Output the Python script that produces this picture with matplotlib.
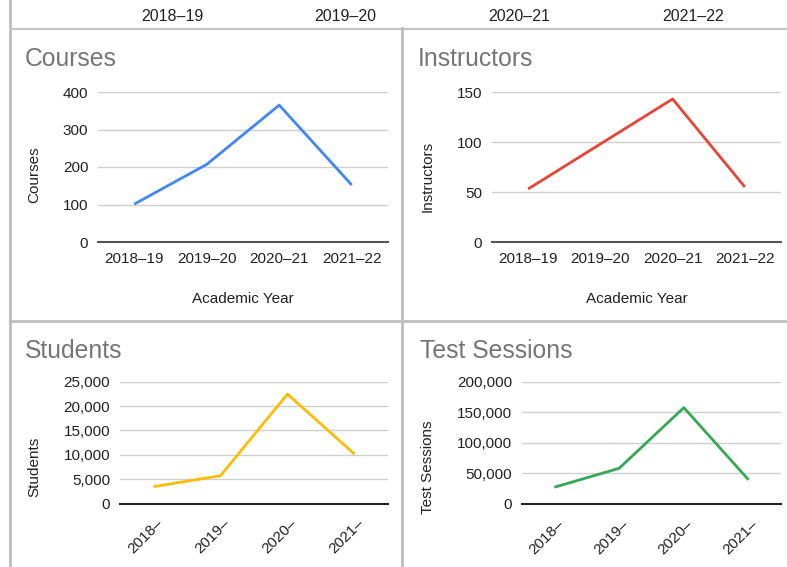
import matplotlib
matplotlib.use("Agg")
import matplotlib.pyplot as plt
from matplotlib.lines import Line2D
from matplotlib.ticker import FuncFormatter
from matplotlib.transforms import ScaledTranslation

plt.rcParams['font.family'] = ['Liberation Sans', 'DejaVu Sans']

years = ["2018–19", "2019–20", "2020–21", "2021–22"]
years_short = ["2018–", "2019–", "2020–", "2021–"]

courses = [101, 207, 365, 152]
instructors = [53, 98, 143, 55]
students = [3450, 5700, 22450, 10150]
test_sessions = [27000, 58000, 157500, 39000]

W, H = 787, 567
fig = plt.figure(figsize=(W / 100, H / 100), dpi=100)
fig.patch.set_facecolor("white")


def box(x0, y0, x1, y1):
    # pixel box (top-left origin) -> figure fraction rect
    return [x0 / W, 1 - y1 / H, (x1 - x0) / W, (y1 - y0) / H]


def hline(y, x0, x1, lw=1.5, color="#c4c4c4"):
    fig.add_artist(Line2D([x0 / W, x1 / W], [1 - y / H, 1 - y / H],
                          color=color, lw=lw, transform=fig.transFigure))


def vline(x, y0, y1, lw=1.5, color="#c4c4c4"):
    fig.add_artist(Line2D([x / W, x / W], [1 - y0 / H, 1 - y1 / H],
                          color=color, lw=lw, transform=fig.transFigure))


# panel frame lines
vline(10, 0, H, lw=2, color="#bdbdbd")
hline(28.5, 10, W, lw=1.5)
vline(402, 28, H, lw=2, color="#bdbdbd")
hline(321, 10, W, lw=2, color="#bdbdbd")

# leftover category labels at the top strip
strip = fig.add_axes(box(85, 0, 780, 28))
strip.set_xlim(-0.5, 3.5)
strip.set_ylim(0, 1)
strip.axis("off")
for i, lab in enumerate(years):
    strip.text(i, 0.4, lab, ha="center", va="center", fontsize=11.5,
               color="#222222")

comma = FuncFormatter(lambda v, p: f"{int(v):,}")


def panel(rect, title, title_xy, values, color, ymax, yticks, ylabel,
          ylab_xy, short=False):
    ax = fig.add_axes(box(*rect))
    x = list(range(len(values)))
    ax.plot(x, values, color=color, lw=2, solid_capstyle="butt", zorder=3)
    ax.set_xlim(-0.5, 3.5)
    ax.set_ylim(0, ymax)
    ax.set_yticks(yticks)
    ax.yaxis.set_major_formatter(comma)
    ax.grid(axis="y", color="#cfcfcf", lw=1)
    ax.set_axisbelow(True)
    for s in ["top", "right", "left"]:
        ax.spines[s].set_visible(False)
    ax.spines["bottom"].set_color("#555555" if not short else "#222222")
    ax.spines["bottom"].set_linewidth(1.5)
    ax.spines["bottom"].set_zorder(2)
    ax.tick_params(length=0, labelsize=11, colors="#222222")
    ax.tick_params(axis="y", pad=7)
    ax.set_xticks(x)
    if short:
        ax.set_xticklabels(years_short, rotation=45, ha="right",
                           va="center", rotation_mode="anchor")
        ax.tick_params(axis="x", pad=13)
        shift = ScaledTranslation(7 / 100, 0, fig.dpi_scale_trans)
        for lab in ax.get_xticklabels():
            lab.set_transform(lab.get_transform() + shift)
    else:
        ax.set_xticklabels(years)
        ax.tick_params(axis="x", pad=7)
        ax.set_xlabel("Academic Year", fontsize=11, color="#222222")
        ax.xaxis.set_label_coords(0.5, -0.335)
    ax.set_ylabel(ylabel, fontsize=11, color="#222222")
    ax.yaxis.set_label_coords(*ylab_xy)
    fig.text(title_xy[0] / W, 1 - title_xy[1] / H, title, fontsize=17.8,
             color="#757575", ha="left", va="center")
    return ax


panel((98, 92, 388, 242), "Courses", (25, 59), courses, "#4285F4",
      400, [0, 100, 200, 300, 400], "Courses", (-0.196, 0.447))
panel((492, 92, 781, 242), "Instructors", (418, 59), instructors, "#EA4335",
      150, [0, 50, 100, 150], "Instructors", (-0.197, 0.435))
panel((120, 381.7, 388, 503.5), "Students", (25, 351), students, "#FBBC04",
      25000, [0, 5000, 10000, 15000, 20000, 25000], "Students",
      (-0.295, 0.30), short=True)
panel((522, 381.7, 781, 503.7), "Test Sessions", (420, 351), test_sessions,
      "#34A853", 200000, [0, 50000, 100000, 150000, 200000], "Test Sessions",
      (-0.336, 0.30), short=True)

fig.savefig("out.png", dpi=100)
